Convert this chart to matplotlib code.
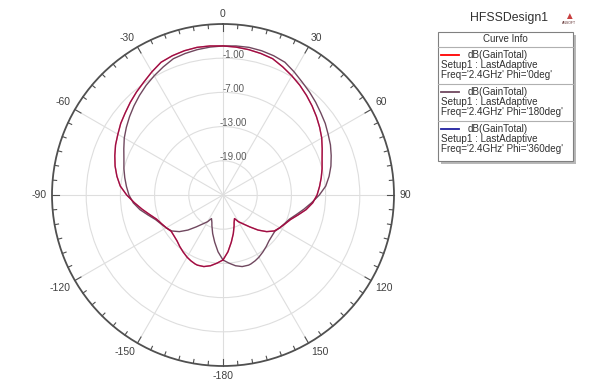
"""
    HFSS style polar plot of dB(GainTotal) at 2.4 GHz
"""

import numpy as np
from matplotlib import pyplot as plt
from matplotlib.patches import Rectangle
from matplotlib.lines import Line2D

# theta sweep (deg), 0 at top, positive clockwise
theta_deg = [-180, -175, -170, -165, -160, -158, -154, -150, -145, -140, -135, -130,
             -125, -120, -115, -110, -105, -100, -95, -90, -85, -80, -75, -70, -65,
             -60, -55, -50, -45, -40, -35, -30, -25, -20, -15, -10, -5, 0, 5, 10, 15,
             20, 25, 30, 35, 40, 45, 50, 55, 60, 65, 70, 75, 80, 85, 90, 95, 100, 105,
             110, 115, 120, 125, 130, 135, 140, 145, 150, 154, 158, 160, 165, 170,
             175, 180]

gain_phi0 = [-13.6, -13.0, -12.4, -12.0, -11.9, -11.95, -12.15, -12.4, -12.8, -13.2,
             -13.6, -13.8, -13.9, -13.5, -13.1, -12.6, -11.7, -10.6, -9.4, -8.1, -6.9,
             -6.1, -5.4, -4.8, -4.2, -3.7, -3.1, -2.6, -2.0, -1.4, -0.8, -0.05, 0.7,
             1.0, 1.2, 1.3, 1.25, 1.15, 1.05, 0.9, 0.7, 0.45, -0.2, -0.85, -1.5, -2.2,
             -2.9, -3.6, -4.3, -5.0, -5.8, -6.5, -7.0, -7.5, -8.0, -8.5, -9.2, -10.2,
             -11.4, -12.4, -13.0, -13.5, -14.0, -15.0, -16.3, -17.7, -18.8, -19.6,
             -20.4, -19.8, -19.3, -18.0, -16.6, -15.0, -13.6]

gain_phi180 = [-13.6, -15.0, -16.6, -18.0, -19.3, -19.8, -20.4, -19.6, -18.8, -17.7,
               -16.3, -15.0, -14.0, -13.5, -13.0, -12.4, -11.4, -10.2, -9.2, -8.5,
               -8.0, -7.5, -7.0, -6.5, -5.8, -5.0, -4.3, -3.6, -2.9, -2.2, -1.5,
               -0.85, -0.2, 0.45, 0.7, 0.9, 1.05, 1.15, 1.25, 1.3, 1.2, 1.0, 0.7,
               -0.05, -0.8, -1.4, -2.0, -2.6, -3.1, -3.7, -4.2, -4.8, -5.4, -6.1,
               -6.9, -8.1, -9.4, -10.6, -11.7, -12.6, -13.1, -13.5, -13.9, -13.8,
               -13.6, -13.2, -12.8, -12.4, -12.15, -11.95, -11.9, -12.0, -12.4,
               -13.0, -13.6]

# phi=360 cut is the same cut as phi=0
gain_phi360 = list(gain_phi0)

r_ticks = [-19.0, -13.0, -7.0, -1.0]
r_min, r_max = -25.0, 5.0
angle_labels = [0, 30, 60, 90, 120, 150, -180, -150, -120, -90, -60, -30]

legend_entries = [
    ("#ff0000", "Freq='2.4GHz' Phi='0deg'"),
    ("#70485f", "Freq='2.4GHz' Phi='180deg'"),
    ("#2020a0", "Freq='2.4GHz' Phi='360deg'"),
]

plt.rcParams['font.family'] = ['Liberation Sans', 'DejaVu Sans']

W, H = 591, 386
fig = plt.figure(figsize=(W / 100, H / 100), dpi=100)


def px(x, y):
    return x / W, 1 - y / H


cx, cy, R = 223, 195, 171
ax = fig.add_axes([(cx - R) / W, (H - cy - R) / H, 2 * R / W, 2 * R / H], projection='polar')
ax.set_theta_zero_location('N')
ax.set_theta_direction(-1)
ax.set_ylim(r_min, r_max)

ax.set_yticks(r_ticks)
ax.set_yticklabels([])
ax.set_xticks(np.deg2rad(np.arange(0, 360, 30)))
ax.set_xticklabels([])
ax.grid(True, color='#dedede', lw=0.8)
ax.spines['polar'].set_color('#505050')
ax.spines['polar'].set_linewidth(1.3)
ax.tick_params(length=0)

th = np.deg2rad(theta_deg)
ax.plot(th, gain_phi180, color=legend_entries[1][0], lw=1.0, zorder=3)
ax.plot(th, gain_phi0, color=legend_entries[0][0], lw=1.0, zorder=4)
ax.plot(th, gain_phi360, color=legend_entries[2][0], lw=1.0, alpha=0.45, zorder=5)

# tick marks on the outer ring
unit = (r_max - r_min) / R
for a in range(0, 360, 5):
    tl = 7 if a % 30 == 0 else 4
    ax.plot([np.deg2rad(a)] * 2, [r_max - tl * unit, r_max], color='#505050',
            lw=0.8, clip_on=False, zorder=6)

# angle labels
r_lab = r_max + 5 * unit
for a in angle_labels:
    s, c = np.sin(np.deg2rad(a)), np.cos(np.deg2rad(a))
    ha = 'left' if s > 0.3 else ('right' if s < -0.3 else 'center')
    va = 'bottom' if c > 0.3 else ('top' if c < -0.3 else 'center')
    ax.text(np.deg2rad(a), r_lab, str(a), ha=ha, va=va, fontsize=7.5, color='#404040')

for v in r_ticks:
    ax.annotate(f"{v:.2f}", xy=(0, v), xytext=(7.5, 2.5), textcoords='offset points',
                ha='center', va='center', fontsize=7, color='#5a5a5a')

# legend block
fig.text(*px(509, 18), "HFSSDesign1", ha='center', va='center', fontsize=8.8, color='#303030')
fig.text(*px(569, 16), "\u25b2", ha='center', va='center', fontsize=7, color='#c84040')
fig.text(*px(569, 23), "ANSOFT", ha='center', va='center', fontsize=2.5, color='#603030')

bx0, by0, bx1, by1 = 438, 32, 573, 161
fig.add_artist(Rectangle(px(bx0 + 3, by1 + 3), (bx1 - bx0) / W, (by1 - by0) / H,
                         transform=fig.transFigure, facecolor='#b8b8b8', edgecolor='none'))
fig.add_artist(Rectangle(px(bx0, by1), (bx1 - bx0) / W, (by1 - by0) / H,
                         transform=fig.transFigure, facecolor='white', edgecolor='#808080',
                         lw=0.8))
fig.text(*px(505, 39), "Curve Info", ha='center', va='center', fontsize=7, color='#303030')


def hline(y):
    fig.add_artist(Line2D([bx0 / W, bx1 / W], [1 - y / H] * 2, transform=fig.transFigure,
                          color='#b0b0b0', lw=0.8))


hline(47)
for i, (col, freq) in enumerate(legend_entries):
    g = 47 + 37 * i
    fig.add_artist(Line2D([441 / W, 459 / W], [1 - (g + 8) / H] * 2,
                          transform=fig.transFigure, color=col, lw=1.3))
    fig.text(*px(468, g + 8), "dB(GainTotal)", va='center', fontsize=7.1, color='#303030')
    fig.text(*px(441, g + 18), "Setup1 : LastAdaptive", va='center', fontsize=7.1,
             color='#303030')
    fig.text(*px(441, g + 28), freq, va='center', fontsize=7.1, color='#303030')
    if i < len(legend_entries) - 1:
        hline(g + 37)

fig.savefig("out.png", dpi=100)
